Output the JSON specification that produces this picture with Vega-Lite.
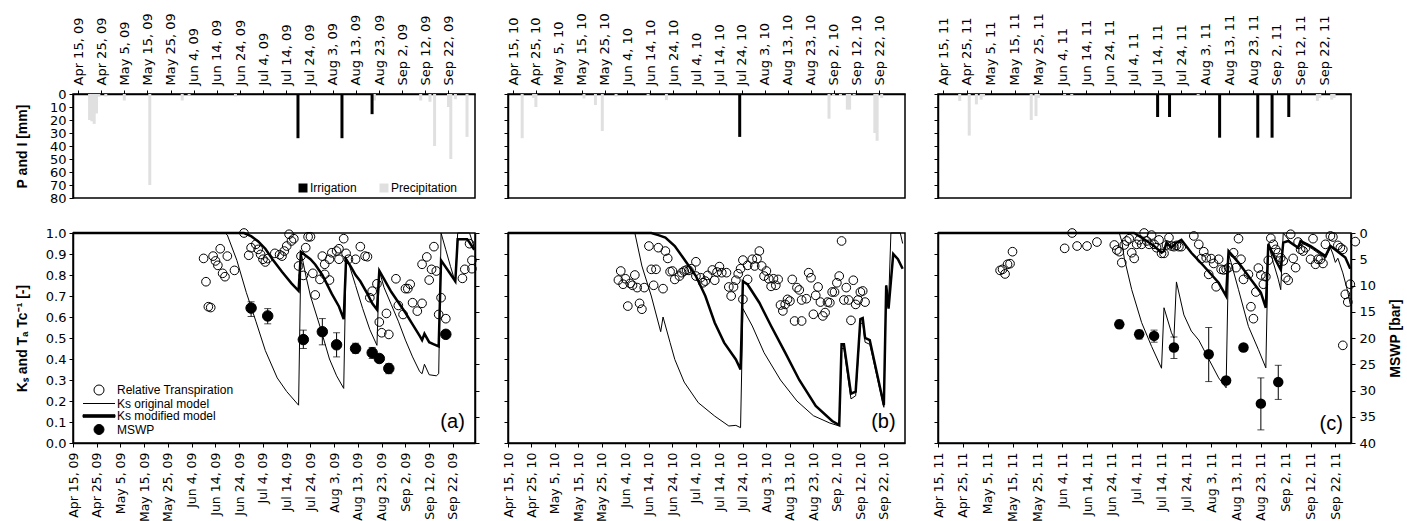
{
"$schema": "https://vega.github.io/schema/vega-lite/v6.json",
"padding": {"left": 14, "top": 11, "right": 5, "bottom": 5},
"config": {
  "font": "Liberation Sans",
  "view": {"stroke": "black", "strokeWidth": 1.5},
  "axis": {"grid": false, "labelFont": "DejaVu Sans", "labelFontSize": 13, "labelColor": "black", "tickColor": "black", "tickSize": 4, "tickWidth": 1, "domainColor": "black", "domainWidth": 1.5, "titleFont": "Liberation Sans", "titleFontSize": 14, "titleFontWeight": "bold", "titleColor": "black", "labelFlush": false, "labelOverlap": false, "labelBound": false},
  "axisTop": {"labelAngle": 270, "labelAlign": "left", "labelBaseline": "middle", "labelPadding": 5},
  "axisBottom": {"labelAngle": 270, "labelAlign": "right", "labelBaseline": "middle", "labelPadding": 5, "labelFontSize": 12.5},
  "axisLeft": {"labelPadding": 3},
  "axisRight": {"labelPadding": 4},
  "legend": {"labelFont": "Liberation Sans", "labelFontSize": 12, "labelColor": "black"}
},
"resolve": {"scale": {"x": "independent", "y": "independent", "color": "independent", "shape": "independent", "fill": "independent", "stroke": "independent"}, "axis": {"x": "independent", "y": "independent"}, "legend": {"color": "independent", "shape": "independent", "fill": "independent", "stroke": "independent"}},
"columns": 3,
"spacing": {"row": 35, "column": 33},
"bounds": "flush",
"align": "each",
"concat": [
   {
    "width": 402, "height": 104,
    "data": {"name": "top_a"},
    "mark": {"type": "bar", "size": 3},
    "encoding": {
      "x": {"field": "date", "type": "temporal", "scale": {"type": "utc", "domain": [{"year":2009,"month":4,"date":15,"utc":true},{"year":2009,"month":10,"date":1,"hours":7,"utc":true}], "nice": false},
            "axis": {"orient": "top", "title": null, "format": "%b %-d, %y", "values": [{"year":2009,"month":4,"date":15,"utc":true},{"year":2009,"month":4,"date":25,"utc":true},{"year":2009,"month":5,"date":5,"utc":true},{"year":2009,"month":5,"date":15,"utc":true},{"year":2009,"month":5,"date":25,"utc":true},{"year":2009,"month":6,"date":4,"utc":true},{"year":2009,"month":6,"date":14,"utc":true},{"year":2009,"month":6,"date":24,"utc":true},{"year":2009,"month":7,"date":4,"utc":true},{"year":2009,"month":7,"date":14,"utc":true},{"year":2009,"month":7,"date":24,"utc":true},{"year":2009,"month":8,"date":3,"utc":true},{"year":2009,"month":8,"date":13,"utc":true},{"year":2009,"month":8,"date":23,"utc":true},{"year":2009,"month":9,"date":2,"utc":true},{"year":2009,"month":9,"date":12,"utc":true},{"year":2009,"month":9,"date":22,"utc":true}]}},
      "y": {"field": "mm", "type": "quantitative", "scale": {"domain": [0, 80], "reverse": true, "nice": false}, "axis": {"title": "P and I [mm]", "values": [0,10,20,30,40,50,60,70,80], "titlePadding": 20}},
      "color": {"field": "type", "type": "nominal", "scale": {"domain": ["Irrigation", "Precipitation"], "range": ["#000000", "#e0e0e0"]},
                "legend": {"orient": "none", "legendX": 224, "legendY": 88, "direction": "horizontal", "title": null, "symbolType": "square", "symbolSize": 81, "symbolStrokeWidth": 0, "labelOffset": 1, "columnPadding": 21, "padding": 0, "labelFontSize": 12}}
    }
   },
   {
    "width": 397, "height": 104,
    "data": {"name": "top_b"},
    "mark": {"type": "bar", "size": 3},
    "encoding": {
      "x": {"field": "date", "type": "temporal", "scale": {"type": "utc", "domain": [{"year":2010,"month":4,"date":15,"utc":true},{"year":2010,"month":10,"date":1,"utc":true}], "nice": false},
            "axis": {"orient": "top", "title": null, "format": "%b %-d, %y", "values": [{"year":2010,"month":4,"date":15,"utc":true},{"year":2010,"month":4,"date":25,"utc":true},{"year":2010,"month":5,"date":5,"utc":true},{"year":2010,"month":5,"date":15,"utc":true},{"year":2010,"month":5,"date":25,"utc":true},{"year":2010,"month":6,"date":4,"utc":true},{"year":2010,"month":6,"date":14,"utc":true},{"year":2010,"month":6,"date":24,"utc":true},{"year":2010,"month":7,"date":4,"utc":true},{"year":2010,"month":7,"date":14,"utc":true},{"year":2010,"month":7,"date":24,"utc":true},{"year":2010,"month":8,"date":3,"utc":true},{"year":2010,"month":8,"date":13,"utc":true},{"year":2010,"month":8,"date":23,"utc":true},{"year":2010,"month":9,"date":2,"utc":true},{"year":2010,"month":9,"date":12,"utc":true},{"year":2010,"month":9,"date":22,"utc":true}]}},
      "y": {"field": "mm", "type": "quantitative", "scale": {"domain": [0, 80], "reverse": true, "nice": false}, "axis": {"title": null, "labels": false, "values": [0,10,20,30,40,50,60,70,80]}},
      "color": {"field": "type", "type": "nominal", "scale": {"domain": ["Irrigation", "Precipitation"], "range": ["#000000", "#e0e0e0"]}, "legend": null}
    }
   },
   {
    "width": 413, "height": 104,
    "data": {"name": "top_c"},
    "mark": {"type": "bar", "size": 3},
    "encoding": {
      "x": {"field": "date", "type": "temporal", "scale": {"type": "utc", "domain": [{"year":2011,"month":4,"date":15,"utc":true},{"year":2011,"month":10,"date":1,"utc":true}], "nice": false},
            "axis": {"orient": "top", "title": null, "format": "%b %-d, %y", "values": [{"year":2011,"month":4,"date":15,"utc":true},{"year":2011,"month":4,"date":25,"utc":true},{"year":2011,"month":5,"date":5,"utc":true},{"year":2011,"month":5,"date":15,"utc":true},{"year":2011,"month":5,"date":25,"utc":true},{"year":2011,"month":6,"date":4,"utc":true},{"year":2011,"month":6,"date":14,"utc":true},{"year":2011,"month":6,"date":24,"utc":true},{"year":2011,"month":7,"date":4,"utc":true},{"year":2011,"month":7,"date":14,"utc":true},{"year":2011,"month":7,"date":24,"utc":true},{"year":2011,"month":8,"date":3,"utc":true},{"year":2011,"month":8,"date":13,"utc":true},{"year":2011,"month":8,"date":23,"utc":true},{"year":2011,"month":9,"date":2,"utc":true},{"year":2011,"month":9,"date":12,"utc":true},{"year":2011,"month":9,"date":22,"utc":true}]}},
      "y": {"field": "mm", "type": "quantitative", "scale": {"domain": [0, 80], "reverse": true, "nice": false}, "axis": {"title": null, "labels": false, "values": [0,10,20,30,40,50,60,70,80]}},
      "color": {"field": "type", "type": "nominal", "scale": {"domain": ["Irrigation", "Precipitation"], "range": ["#000000", "#e0e0e0"]}, "legend": null}
    }
   },
   {
    "width": 402, "height": 210,
    "resolve": {"scale": {"y": "independent"}},
    "encoding": {
      "x": {"field": "date", "type": "temporal", "scale": {"type": "utc", "domain": [{"year":2009,"month":4,"date":15,"utc":true},{"year":2009,"month":10,"date":1,"hours":7,"utc":true}], "nice": false},
            "axis": {"orient": "bottom", "title": null, "format": "%b %-d, %y", "values": [{"year":2009,"month":4,"date":15,"utc":true},{"year":2009,"month":4,"date":25,"utc":true},{"year":2009,"month":5,"date":5,"utc":true},{"year":2009,"month":5,"date":15,"utc":true},{"year":2009,"month":5,"date":25,"utc":true},{"year":2009,"month":6,"date":4,"utc":true},{"year":2009,"month":6,"date":14,"utc":true},{"year":2009,"month":6,"date":24,"utc":true},{"year":2009,"month":7,"date":4,"utc":true},{"year":2009,"month":7,"date":14,"utc":true},{"year":2009,"month":7,"date":24,"utc":true},{"year":2009,"month":8,"date":3,"utc":true},{"year":2009,"month":8,"date":13,"utc":true},{"year":2009,"month":8,"date":23,"utc":true},{"year":2009,"month":9,"date":2,"utc":true},{"year":2009,"month":9,"date":12,"utc":true},{"year":2009,"month":9,"date":22,"utc":true}]}}
    },
    "layer": [
     {
      "encoding": {
        "y": {"field": "v", "type": "quantitative", "scale": {"domain": [0, 1], "nice": false}, "axis": {"title": "Kₛ and Tₐ Tc⁻¹ [-]", "values": [0,0.1,0.2,0.3,0.4,0.5,0.6,0.7,0.8,0.9,1], "format": ".1f", "titlePadding": 16}}
      },
      "layer": [
       {"data": {"name": "ks_a"}, "transform": [{"filter": "datum.series === 'Relative Transpiration'"}],
        "mark": {"type": "point", "filled": false, "size": 75, "strokeWidth": 1, "opacity": 1},
        "encoding": {
          "shape": {"field": "series", "type": "nominal", "scale": {"domain": ["Relative Transpiration", "Ks original model", "Ks modified model", "MSWP"], "range": ["circle", "M-3.2,0H3.2", "M-3.2,-0.25H3.2V0.25H-3.2Z", "circle"]},
            "legend": {"orient": "none", "legendX": 20, "legendY": 151, "title": null, "direction": "vertical", "symbolSize": 100, "labelOffset": 12, "rowPadding": 0.5, "padding": 0, "labelFontSize": 12, "symbolStrokeWidth": 1}},
          "fill": {"field": "series", "type": "nominal", "scale": {"domain": ["Relative Transpiration", "Ks original model", "Ks modified model", "MSWP"], "range": ["transparent", "transparent", "black", "black"]},
            "legend": {"orient": "none", "legendX": 20, "legendY": 151, "title": null, "direction": "vertical", "symbolSize": 100, "labelOffset": 12, "rowPadding": 0.5, "padding": 0, "labelFontSize": 12, "symbolStrokeWidth": 1}},
          "stroke": {"field": "series", "type": "nominal", "scale": {"domain": ["Relative Transpiration", "Ks original model", "Ks modified model", "MSWP"], "range": ["black", "black", "black", "black"]},
            "legend": {"orient": "none", "legendX": 20, "legendY": 151, "title": null, "direction": "vertical", "symbolSize": 100, "labelOffset": 12, "rowPadding": 0.5, "padding": 0, "labelFontSize": 12, "symbolStrokeWidth": 1}}
        }},
       {"data": {"name": "ks_a"}, "transform": [{"filter": "datum.series === 'Ks original model'"}], "mark": {"type": "line", "color": "black", "strokeWidth": 1}},
       {"data": {"name": "ks_a"}, "transform": [{"filter": "datum.series === 'Ks modified model'"}], "mark": {"type": "line", "color": "black", "strokeWidth": 2.5}},
       {"data": {"values": [{"date": "2009-09-27", "v": 0.1, "label": "(a)"}]}, "mark": {"type": "text", "align": "right", "baseline": "middle", "fontSize": 20, "font": "Liberation Sans", "color": "black"}, "encoding": {"text": {"field": "label", "type": "nominal"}}}
      ]
     },
     {
      "layer": [
       {"data": {"name": "mswp_a"}, "transform": [{"filter": "isValid(datum.lo)"}],
        "mark": {"type": "errorbar", "color": "black", "ticks": true, "size": 7, "thickness": 1},
        "encoding": {"y": {"field": "lo", "type": "quantitative", "scale": {"domain": [0, 40], "reverse": true, "nice": false}, "axis": {"orient": "right", "values": [0,5,10,15,20,25,30,35,40], "labels": false, "title": null}}, "y2": {"field": "hi"}}},
       {"data": {"name": "mswp_a"},
        "mark": {"type": "point", "filled": true, "size": 110, "strokeWidth": 1, "opacity": 1},
        "encoding": {"y": {"field": "mswp", "type": "quantitative", "scale": {"domain": [0, 40], "reverse": true, "nice": false}, "axis": {"orient": "right", "values": [0,5,10,15,20,25,30,35,40], "labels": false, "title": null}},
          "shape": {"field": "series", "type": "nominal", "scale": {"domain": ["Relative Transpiration", "Ks original model", "Ks modified model", "MSWP"], "range": ["circle", "M-3.2,0H3.2", "M-3.2,-0.25H3.2V0.25H-3.2Z", "circle"]},
            "legend": {"orient": "none", "legendX": 20, "legendY": 151, "title": null, "direction": "vertical", "symbolSize": 100, "labelOffset": 12, "rowPadding": 0.5, "padding": 0, "labelFontSize": 12, "symbolStrokeWidth": 1}},
          "fill": {"field": "series", "type": "nominal", "scale": {"domain": ["Relative Transpiration", "Ks original model", "Ks modified model", "MSWP"], "range": ["transparent", "transparent", "black", "black"]},
            "legend": {"orient": "none", "legendX": 20, "legendY": 151, "title": null, "direction": "vertical", "symbolSize": 100, "labelOffset": 12, "rowPadding": 0.5, "padding": 0, "labelFontSize": 12, "symbolStrokeWidth": 1}},
          "stroke": {"field": "series", "type": "nominal", "scale": {"domain": ["Relative Transpiration", "Ks original model", "Ks modified model", "MSWP"], "range": ["black", "black", "black", "black"]},
            "legend": {"orient": "none", "legendX": 20, "legendY": 151, "title": null, "direction": "vertical", "symbolSize": 100, "labelOffset": 12, "rowPadding": 0.5, "padding": 0, "labelFontSize": 12, "symbolStrokeWidth": 1}}
        }}
      ]
     }
    ]
   },
   {
    "width": 397, "height": 210,
    "encoding": {
      "x": {"field": "date", "type": "temporal", "scale": {"type": "utc", "domain": [{"year":2010,"month":4,"date":15,"utc":true},{"year":2010,"month":10,"date":1,"utc":true}], "nice": false},
            "axis": {"orient": "bottom", "title": null, "format": "%b %-d, %y", "values": [{"year":2010,"month":4,"date":15,"utc":true},{"year":2010,"month":4,"date":25,"utc":true},{"year":2010,"month":5,"date":5,"utc":true},{"year":2010,"month":5,"date":15,"utc":true},{"year":2010,"month":5,"date":25,"utc":true},{"year":2010,"month":6,"date":4,"utc":true},{"year":2010,"month":6,"date":14,"utc":true},{"year":2010,"month":6,"date":24,"utc":true},{"year":2010,"month":7,"date":4,"utc":true},{"year":2010,"month":7,"date":14,"utc":true},{"year":2010,"month":7,"date":24,"utc":true},{"year":2010,"month":8,"date":3,"utc":true},{"year":2010,"month":8,"date":13,"utc":true},{"year":2010,"month":8,"date":23,"utc":true},{"year":2010,"month":9,"date":2,"utc":true},{"year":2010,"month":9,"date":12,"utc":true},{"year":2010,"month":9,"date":22,"utc":true}]}},
      "y": {"field": "v", "type": "quantitative", "scale": {"domain": [0, 1], "nice": false}, "axis": {"title": null, "labels": false, "values": [0,0.1,0.2,0.3,0.4,0.5,0.6,0.7,0.8,0.9,1]}}
    },
    "layer": [
     {"data": {"name": "ks_b"}, "transform": [{"filter": "datum.series === 'Relative Transpiration'"}], "mark": {"type": "point", "shape": "circle", "filled": false, "size": 75, "strokeWidth": 1, "color": "black", "opacity": 1}},
     {"data": {"name": "ks_b"}, "transform": [{"filter": "datum.series === 'Ks original model'"}], "mark": {"type": "line", "color": "black", "strokeWidth": 1}},
     {"data": {"name": "ks_b"}, "transform": [{"filter": "datum.series === 'Ks modified model'"}], "mark": {"type": "line", "color": "black", "strokeWidth": 2.5}},
     {"data": {"values": [{"date": "2010-09-27", "v": 0.1, "label": "(b)"}]}, "mark": {"type": "text", "align": "right", "baseline": "middle", "fontSize": 20, "font": "Liberation Sans", "color": "black"}, "encoding": {"text": {"field": "label", "type": "nominal"}}}
    ]
   },
   {
    "width": 413, "height": 210,
    "resolve": {"scale": {"y": "independent"}},
    "encoding": {
      "x": {"field": "date", "type": "temporal", "scale": {"type": "utc", "domain": [{"year":2011,"month":4,"date":15,"utc":true},{"year":2011,"month":9,"date":28,"hours":7,"utc":true}], "nice": false},
            "axis": {"orient": "bottom", "title": null, "format": "%b %-d, %y", "values": [{"year":2011,"month":4,"date":15,"utc":true},{"year":2011,"month":4,"date":25,"utc":true},{"year":2011,"month":5,"date":5,"utc":true},{"year":2011,"month":5,"date":15,"utc":true},{"year":2011,"month":5,"date":25,"utc":true},{"year":2011,"month":6,"date":4,"utc":true},{"year":2011,"month":6,"date":14,"utc":true},{"year":2011,"month":6,"date":24,"utc":true},{"year":2011,"month":7,"date":4,"utc":true},{"year":2011,"month":7,"date":14,"utc":true},{"year":2011,"month":7,"date":24,"utc":true},{"year":2011,"month":8,"date":3,"utc":true},{"year":2011,"month":8,"date":13,"utc":true},{"year":2011,"month":8,"date":23,"utc":true},{"year":2011,"month":9,"date":2,"utc":true},{"year":2011,"month":9,"date":12,"utc":true},{"year":2011,"month":9,"date":22,"utc":true}]}}
    },
    "layer": [
     {
      "encoding": {
        "y": {"field": "v", "type": "quantitative", "scale": {"domain": [0, 1], "nice": false}, "axis": {"title": null, "labels": false, "values": [0,0.1,0.2,0.3,0.4,0.5,0.6,0.7,0.8,0.9,1]}}
      },
      "layer": [
       {"data": {"name": "ks_c"}, "transform": [{"filter": "datum.series === 'Relative Transpiration'"}], "mark": {"type": "point", "shape": "circle", "filled": false, "size": 75, "strokeWidth": 1, "color": "black", "opacity": 1}},
       {"data": {"name": "ks_c"}, "transform": [{"filter": "datum.series === 'Ks original model'"}], "mark": {"type": "line", "color": "black", "strokeWidth": 1}},
       {"data": {"name": "ks_c"}, "transform": [{"filter": "datum.series === 'Ks modified model'"}], "mark": {"type": "line", "color": "black", "strokeWidth": 2.5}},
       {"data": {"values": [{"date": "2011-09-25", "v": 0.09, "label": "(c)"}]}, "mark": {"type": "text", "align": "right", "baseline": "middle", "fontSize": 20, "font": "Liberation Sans", "color": "black"}, "encoding": {"text": {"field": "label", "type": "nominal"}}}
      ]
     },
     {
      "layer": [
       {"data": {"name": "mswp_c"}, "transform": [{"filter": "isValid(datum.lo)"}],
        "mark": {"type": "errorbar", "color": "black", "ticks": true, "size": 7, "thickness": 1},
        "encoding": {"y": {"field": "lo", "type": "quantitative", "scale": {"domain": [0, 40], "reverse": true, "nice": false}, "axis": {"orient": "right", "values": [0,5,10,15,20,25,30,35,40], "title": "MSWP [bar]", "titleAngle": 270, "titleBaseline": "top", "titlePadding": 13}}, "y2": {"field": "hi"}}},
       {"data": {"name": "mswp_c"},
        "mark": {"type": "point", "shape": "circle", "filled": true, "size": 110, "color": "black", "opacity": 1},
        "encoding": {"y": {"field": "mswp", "type": "quantitative", "scale": {"domain": [0, 40], "reverse": true, "nice": false}, "axis": {"orient": "right", "values": [0,5,10,15,20,25,30,35,40], "title": "MSWP [bar]", "titleAngle": 270, "titleBaseline": "top", "titlePadding": 13}}}}
      ]
     }
    ]
   }
],
"datasets": {
 "top_a": [
  {"date":"2009-04-20","type":"Precipitation","mm":20},{"date":"2009-04-21","type":"Precipitation","mm":21},{"date":"2009-04-22","type":"Precipitation","mm":23},{"date":"2009-04-23","type":"Precipitation","mm":15},{"date":"2009-04-24","type":"Precipitation","mm":2},{"date":"2009-04-27","type":"Precipitation","mm":2},{"date":"2009-05-05","type":"Precipitation","mm":5},{"date":"2009-05-16","type":"Precipitation","mm":70},{"date":"2009-05-30","type":"Precipitation","mm":5},{"date":"2009-06-02","type":"Precipitation","mm":1},{"date":"2009-06-22","type":"Precipitation","mm":2},{"date":"2009-08-21","type":"Precipitation","mm":5},{"date":"2009-09-10","type":"Precipitation","mm":5},{"date":"2009-09-14","type":"Precipitation","mm":6},{"date":"2009-09-16","type":"Precipitation","mm":40},{"date":"2009-09-22","type":"Precipitation","mm":10},{"date":"2009-09-23","type":"Precipitation","mm":50},{"date":"2009-09-25","type":"Precipitation","mm":4},{"date":"2009-09-30","type":"Precipitation","mm":33},
  {"date":"2009-07-19","type":"Irrigation","mm":34},{"date":"2009-08-07","type":"Irrigation","mm":34},{"date":"2009-08-20","type":"Irrigation","mm":15.5}
 ],
 "top_b": [
  {"date":"2010-04-19","type":"Precipitation","mm":34},{"date":"2010-04-24","type":"Precipitation","mm":3},{"date":"2010-04-25","type":"Precipitation","mm":10},{"date":"2010-05-16","type":"Precipitation","mm":3.4},{"date":"2010-05-21","type":"Precipitation","mm":8.5},{"date":"2010-05-24","type":"Precipitation","mm":28.5},{"date":"2010-05-30","type":"Precipitation","mm":2},{"date":"2010-06-13","type":"Precipitation","mm":1.5},{"date":"2010-06-21","type":"Precipitation","mm":4.7},{"date":"2010-08-31","type":"Precipitation","mm":19},{"date":"2010-09-02","type":"Precipitation","mm":1.5},{"date":"2010-09-05","type":"Precipitation","mm":1.5},{"date":"2010-09-08","type":"Precipitation","mm":12},{"date":"2010-09-09","type":"Precipitation","mm":12},{"date":"2010-09-11","type":"Precipitation","mm":1},{"date":"2010-09-20","type":"Precipitation","mm":30},{"date":"2010-09-21","type":"Precipitation","mm":36},{"date":"2010-09-23","type":"Precipitation","mm":3},
  {"date":"2010-07-23","type":"Irrigation","mm":33}
 ],
 "top_c": [
  {"date":"2011-04-22","type":"Precipitation","mm":5.4},{"date":"2011-04-26","type":"Precipitation","mm":32},{"date":"2011-04-29","type":"Precipitation","mm":8},{"date":"2011-05-01","type":"Precipitation","mm":4.4},{"date":"2011-05-02","type":"Precipitation","mm":2},{"date":"2011-05-22","type":"Precipitation","mm":20},{"date":"2011-05-24","type":"Precipitation","mm":17},{"date":"2011-05-25","type":"Precipitation","mm":3},{"date":"2011-06-05","type":"Precipitation","mm":1},{"date":"2011-06-08","type":"Precipitation","mm":1},{"date":"2011-07-31","type":"Precipitation","mm":1},{"date":"2011-09-19","type":"Precipitation","mm":5.4},{"date":"2011-09-20","type":"Precipitation","mm":3},{"date":"2011-09-25","type":"Precipitation","mm":4.4},{"date":"2011-09-26","type":"Precipitation","mm":3},
  {"date":"2011-07-14","type":"Irrigation","mm":17.7},{"date":"2011-07-19","type":"Irrigation","mm":17.7},{"date":"2011-08-09","type":"Irrigation","mm":33.6},{"date":"2011-08-25","type":"Irrigation","mm":33.6},{"date":"2011-08-31","type":"Irrigation","mm":33.6},{"date":"2011-09-07","type":"Irrigation","mm":17.7}
 ],
 "ks_a": [
  {"date":"2009-06-09","series":"Relative Transpiration","v":0.879},{"date":"2009-06-10","series":"Relative Transpiration","v":0.768},{"date":"2009-06-11","series":"Relative Transpiration","v":0.649},{"date":"2009-06-12","series":"Relative Transpiration","v":0.645},{"date":"2009-06-13","series":"Relative Transpiration","v":0.890},{"date":"2009-06-14","series":"Relative Transpiration","v":0.867},{"date":"2009-06-15","series":"Relative Transpiration","v":0.846},{"date":"2009-06-16","series":"Relative Transpiration","v":0.925},{"date":"2009-06-17","series":"Relative Transpiration","v":0.808},{"date":"2009-06-18","series":"Relative Transpiration","v":0.792},{"date":"2009-06-19","series":"Relative Transpiration","v":0.890},{"date":"2009-06-22","series":"Relative Transpiration","v":0.822},{"date":"2009-06-26","series":"Relative Transpiration","v":1.0},{"date":"2009-06-28","series":"Relative Transpiration","v":0.894},{"date":"2009-06-29","series":"Relative Transpiration","v":0.930},{"date":"2009-07-01","series":"Relative Transpiration","v":0.946},{"date":"2009-07-02","series":"Relative Transpiration","v":0.922},{"date":"2009-07-03","series":"Relative Transpiration","v":0.898},{"date":"2009-07-04","series":"Relative Transpiration","v":0.875},{"date":"2009-07-05","series":"Relative Transpiration","v":0.862},{"date":"2009-07-06","series":"Relative Transpiration","v":0.878},{"date":"2009-07-09","series":"Relative Transpiration","v":0.903},{"date":"2009-07-11","series":"Relative Transpiration","v":0.897},{"date":"2009-07-12","series":"Relative Transpiration","v":0.890},{"date":"2009-07-13","series":"Relative Transpiration","v":0.914},{"date":"2009-07-14","series":"Relative Transpiration","v":0.938},{"date":"2009-07-15","series":"Relative Transpiration","v":0.994},{"date":"2009-07-16","series":"Relative Transpiration","v":0.962},{"date":"2009-07-17","series":"Relative Transpiration","v":0.973},{"date":"2009-07-19","series":"Relative Transpiration","v":0.843},{"date":"2009-07-20","series":"Relative Transpiration","v":0.890},{"date":"2009-07-21","series":"Relative Transpiration","v":0.798},{"date":"2009-07-22","series":"Relative Transpiration","v":0.930},{"date":"2009-07-23","series":"Relative Transpiration","v":0.982},{"date":"2009-07-24","series":"Relative Transpiration","v":0.982},{"date":"2009-07-25","series":"Relative Transpiration","v":0.808},{"date":"2009-07-26","series":"Relative Transpiration","v":0.705},{"date":"2009-07-28","series":"Relative Transpiration","v":0.779},{"date":"2009-07-29","series":"Relative Transpiration","v":0.890},{"date":"2009-07-30","series":"Relative Transpiration","v":0.851},{"date":"2009-07-30","series":"Relative Transpiration","v":0.803},{"date":"2009-08-01","series":"Relative Transpiration","v":0.776},{"date":"2009-08-01","series":"Relative Transpiration","v":0.875},{"date":"2009-08-02","series":"Relative Transpiration","v":0.906},{"date":"2009-08-04","series":"Relative Transpiration","v":0.914},{"date":"2009-08-05","series":"Relative Transpiration","v":0.925},{"date":"2009-08-05","series":"Relative Transpiration","v":0.875},{"date":"2009-08-07","series":"Relative Transpiration","v":0.973},{"date":"2009-08-08","series":"Relative Transpiration","v":0.903},{"date":"2009-08-09","series":"Relative Transpiration","v":0.875},{"date":"2009-08-12","series":"Relative Transpiration","v":0.875},{"date":"2009-08-14","series":"Relative Transpiration","v":0.935},{"date":"2009-08-16","series":"Relative Transpiration","v":0.890},{"date":"2009-08-17","series":"Relative Transpiration","v":0.887},{"date":"2009-08-18","series":"Relative Transpiration","v":0.692},{"date":"2009-08-19","series":"Relative Transpiration","v":0.723},{"date":"2009-08-21","series":"Relative Transpiration","v":0.758},{"date":"2009-08-22","series":"Relative Transpiration","v":0.576},{"date":"2009-08-23","series":"Relative Transpiration","v":0.525},{"date":"2009-08-25","series":"Relative Transpiration","v":0.617},{"date":"2009-08-26","series":"Relative Transpiration","v":0.517},{"date":"2009-08-29","series":"Relative Transpiration","v":0.782},{"date":"2009-08-30","series":"Relative Transpiration","v":0.655},{"date":"2009-09-01","series":"Relative Transpiration","v":0.612},{"date":"2009-09-02","series":"Relative Transpiration","v":0.735},{"date":"2009-09-03","series":"Relative Transpiration","v":0.735},{"date":"2009-09-04","series":"Relative Transpiration","v":0.756},{"date":"2009-09-05","series":"Relative Transpiration","v":0.668},{"date":"2009-09-07","series":"Relative Transpiration","v":0.628},{"date":"2009-09-09","series":"Relative Transpiration","v":0.665},{"date":"2009-09-09","series":"Relative Transpiration","v":0.851},{"date":"2009-09-11","series":"Relative Transpiration","v":0.886},{"date":"2009-09-12","series":"Relative Transpiration","v":0.776},{"date":"2009-09-13","series":"Relative Transpiration","v":0.827},{"date":"2009-09-14","series":"Relative Transpiration","v":0.935},{"date":"2009-09-15","series":"Relative Transpiration","v":0.819},{"date":"2009-09-16","series":"Relative Transpiration","v":0.612},{"date":"2009-09-17","series":"Relative Transpiration","v":0.692},{"date":"2009-09-19","series":"Relative Transpiration","v":0.592},{"date":"2009-09-26","series":"Relative Transpiration","v":0.784},{"date":"2009-09-27","series":"Relative Transpiration","v":0.827},{"date":"2009-09-29","series":"Relative Transpiration","v":0.949},{"date":"2009-09-30","series":"Relative Transpiration","v":0.870},{"date":"2009-09-30","series":"Relative Transpiration","v":0.830},
  {"date":"2009-04-15","series":"Ks original model","v":1.0},{"date":"2009-06-18","series":"Ks original model","v":1.0},{"date":"2009-06-19","series":"Ks original model","v":0.99},{"date":"2009-06-23","series":"Ks original model","v":0.87},{"date":"2009-06-27","series":"Ks original model","v":0.716},{"date":"2009-07-01","series":"Ks original model","v":0.58},{"date":"2009-07-05","series":"Ks original model","v":0.44},{"date":"2009-07-10","series":"Ks original model","v":0.31},{"date":"2009-07-14","series":"Ks original model","v":0.245},{"date":"2009-07-19","series":"Ks original model","v":0.18},{"date":"2009-07-20","series":"Ks original model","v":0.91},{"date":"2009-07-22","series":"Ks original model","v":0.80},{"date":"2009-07-24","series":"Ks original model","v":0.70},{"date":"2009-07-28","series":"Ks original model","v":0.555},{"date":"2009-08-01","series":"Ks original model","v":0.40},{"date":"2009-08-04","series":"Ks original model","v":0.32},{"date":"2009-08-07","series":"Ks original model","v":0.26},{"date":"2009-08-08","series":"Ks original model","v":0.88},{"date":"2009-08-09","series":"Ks original model","v":0.86},{"date":"2009-08-12","series":"Ks original model","v":0.75},{"date":"2009-08-15","series":"Ks original model","v":0.64},{"date":"2009-08-18","series":"Ks original model","v":0.54},{"date":"2009-08-21","series":"Ks original model","v":0.465},{"date":"2009-08-22","series":"Ks original model","v":0.82},{"date":"2009-08-24","series":"Ks original model","v":0.74},{"date":"2009-08-27","series":"Ks original model","v":0.66},{"date":"2009-08-30","series":"Ks original model","v":0.58},{"date":"2009-09-02","series":"Ks original model","v":0.49},{"date":"2009-09-05","series":"Ks original model","v":0.41},{"date":"2009-09-08","series":"Ks original model","v":0.34},{"date":"2009-09-09","series":"Ks original model","v":0.33},{"date":"2009-09-10","series":"Ks original model","v":0.375},{"date":"2009-09-12","series":"Ks original model","v":0.325},{"date":"2009-09-15","series":"Ks original model","v":0.32},{"date":"2009-09-16","series":"Ks original model","v":0.33},{"date":"2009-09-17","series":"Ks original model","v":1.0},{"date":"2009-09-19","series":"Ks original model","v":0.92},{"date":"2009-09-21","series":"Ks original model","v":0.84},{"date":"2009-09-23","series":"Ks original model","v":0.765},{"date":"2009-09-24","series":"Ks original model","v":1.0},{"date":"2009-09-29","series":"Ks original model","v":1.0},{"date":"2009-10-01","series":"Ks original model","v":0.93},
  {"date":"2009-04-15","series":"Ks modified model","v":1.0},{"date":"2009-06-26","series":"Ks modified model","v":1.0},{"date":"2009-06-29","series":"Ks modified model","v":0.985},{"date":"2009-07-02","series":"Ks modified model","v":0.96},{"date":"2009-07-05","series":"Ks modified model","v":0.925},{"date":"2009-07-08","series":"Ks modified model","v":0.875},{"date":"2009-07-12","series":"Ks modified model","v":0.815},{"date":"2009-07-16","series":"Ks modified model","v":0.76},{"date":"2009-07-19","series":"Ks modified model","v":0.725},{"date":"2009-07-20","series":"Ks modified model","v":0.91},{"date":"2009-07-24","series":"Ks modified model","v":0.875},{"date":"2009-07-26","series":"Ks modified model","v":0.85},{"date":"2009-07-29","series":"Ks modified model","v":0.80},{"date":"2009-08-02","series":"Ks modified model","v":0.71},{"date":"2009-08-05","series":"Ks modified model","v":0.65},{"date":"2009-08-07","series":"Ks modified model","v":0.59},{"date":"2009-08-08","series":"Ks modified model","v":0.875},{"date":"2009-08-10","series":"Ks modified model","v":0.84},{"date":"2009-08-12","series":"Ks modified model","v":0.80},{"date":"2009-08-14","series":"Ks modified model","v":0.77},{"date":"2009-08-17","series":"Ks modified model","v":0.71},{"date":"2009-08-19","series":"Ks modified model","v":0.665},{"date":"2009-08-21","series":"Ks modified model","v":0.635},{"date":"2009-08-22","series":"Ks modified model","v":0.82},{"date":"2009-08-24","series":"Ks modified model","v":0.78},{"date":"2009-08-27","series":"Ks modified model","v":0.72},{"date":"2009-08-30","series":"Ks modified model","v":0.67},{"date":"2009-09-02","series":"Ks modified model","v":0.62},{"date":"2009-09-05","series":"Ks modified model","v":0.565},{"date":"2009-09-08","series":"Ks modified model","v":0.51},{"date":"2009-09-09","series":"Ks modified model","v":0.49},{"date":"2009-09-10","series":"Ks modified model","v":0.52},{"date":"2009-09-12","series":"Ks modified model","v":0.48},{"date":"2009-09-14","series":"Ks modified model","v":0.47},{"date":"2009-09-16","series":"Ks modified model","v":0.46},{"date":"2009-09-17","series":"Ks modified model","v":0.87},{"date":"2009-09-20","series":"Ks modified model","v":0.82},{"date":"2009-09-23","series":"Ks modified model","v":0.77},{"date":"2009-09-24","series":"Ks modified model","v":0.97},{"date":"2009-09-28","series":"Ks modified model","v":0.97},{"date":"2009-09-29","series":"Ks modified model","v":0.955},{"date":"2009-10-01","series":"Ks modified model","v":0.92}
 ],
 "mswp_a": [
  {"date":"2009-06-29","series":"MSWP","mswp":14.3,"lo":13.1,"hi":15.9},{"date":"2009-07-06","series":"MSWP","mswp":15.8,"lo":14.4,"hi":17.3},{"date":"2009-07-21","series":"MSWP","mswp":20.3,"lo":18.5,"hi":22.0},{"date":"2009-07-29","series":"MSWP","mswp":18.8,"lo":16.3,"hi":21.3},{"date":"2009-08-04","series":"MSWP","mswp":21.3,"lo":19.0,"hi":23.6},{"date":"2009-08-12","series":"MSWP","mswp":22.0,"lo":21.0,"hi":22.9},{"date":"2009-08-19","series":"MSWP","mswp":22.8,"lo":21.8,"hi":23.9},{"date":"2009-08-22","series":"MSWP","mswp":23.9,"lo":null,"hi":null},{"date":"2009-08-26","series":"MSWP","mswp":25.8,"lo":24.9,"hi":26.8},{"date":"2009-09-19","series":"MSWP","mswp":19.3,"lo":null,"hi":null}
 ],
 "ks_b": [
  {"date":"2010-06-01","series":"Relative Transpiration","v":0.776},{"date":"2010-06-02","series":"Relative Transpiration","v":0.819},{"date":"2010-06-03","series":"Relative Transpiration","v":0.756},{"date":"2010-06-04","series":"Relative Transpiration","v":0.782},{"date":"2010-06-05","series":"Relative Transpiration","v":0.652},{"date":"2010-06-06","series":"Relative Transpiration","v":0.760},{"date":"2010-06-07","series":"Relative Transpiration","v":0.751},{"date":"2010-06-08","series":"Relative Transpiration","v":0.80},{"date":"2010-06-09","series":"Relative Transpiration","v":0.74},{"date":"2010-06-10","series":"Relative Transpiration","v":0.665},{"date":"2010-06-11","series":"Relative Transpiration","v":0.637},{"date":"2010-06-12","series":"Relative Transpiration","v":0.74},{"date":"2010-06-14","series":"Relative Transpiration","v":0.938},{"date":"2010-06-15","series":"Relative Transpiration","v":0.827},{"date":"2010-06-16","series":"Relative Transpiration","v":0.751},{"date":"2010-06-17","series":"Relative Transpiration","v":0.827},{"date":"2010-06-18","series":"Relative Transpiration","v":0.930},{"date":"2010-06-20","series":"Relative Transpiration","v":0.735},{"date":"2010-06-21","series":"Relative Transpiration","v":0.914},{"date":"2010-06-22","series":"Relative Transpiration","v":0.879},{"date":"2010-06-23","series":"Relative Transpiration","v":0.816},{"date":"2010-06-24","series":"Relative Transpiration","v":0.819},{"date":"2010-06-25","series":"Relative Transpiration","v":0.779},{"date":"2010-06-27","series":"Relative Transpiration","v":0.795},{"date":"2010-06-28","series":"Relative Transpiration","v":0.811},{"date":"2010-06-29","series":"Relative Transpiration","v":0.819},{"date":"2010-06-30","series":"Relative Transpiration","v":0.824},{"date":"2010-07-01","series":"Relative Transpiration","v":0.822},{"date":"2010-07-02","series":"Relative Transpiration","v":0.830},{"date":"2010-07-04","series":"Relative Transpiration","v":0.863},{"date":"2010-07-04","series":"Relative Transpiration","v":0.795},{"date":"2010-07-06","series":"Relative Transpiration","v":0.787},{"date":"2010-07-07","series":"Relative Transpiration","v":0.763},{"date":"2010-07-08","series":"Relative Transpiration","v":0.771},{"date":"2010-07-09","series":"Relative Transpiration","v":0.798},{"date":"2010-07-11","series":"Relative Transpiration","v":0.824},{"date":"2010-07-12","series":"Relative Transpiration","v":0.775},{"date":"2010-07-13","series":"Relative Transpiration","v":0.814},{"date":"2010-07-14","series":"Relative Transpiration","v":0.840},{"date":"2010-07-15","series":"Relative Transpiration","v":0.811},{"date":"2010-07-17","series":"Relative Transpiration","v":0.811},{"date":"2010-07-18","series":"Relative Transpiration","v":0.743},{"date":"2010-07-19","series":"Relative Transpiration","v":0.70},{"date":"2010-07-20","series":"Relative Transpiration","v":0.743},{"date":"2010-07-21","series":"Relative Transpiration","v":0.775},{"date":"2010-07-22","series":"Relative Transpiration","v":0.806},{"date":"2010-07-23","series":"Relative Transpiration","v":0.830},{"date":"2010-07-24","series":"Relative Transpiration","v":0.871},{"date":"2010-07-24","series":"Relative Transpiration","v":0.684},{"date":"2010-07-26","series":"Relative Transpiration","v":0.779},{"date":"2010-07-26","series":"Relative Transpiration","v":0.846},{"date":"2010-07-28","series":"Relative Transpiration","v":0.875},{"date":"2010-07-29","series":"Relative Transpiration","v":0.843},{"date":"2010-07-30","series":"Relative Transpiration","v":0.878},{"date":"2010-07-31","series":"Relative Transpiration","v":0.914},{"date":"2010-08-01","series":"Relative Transpiration","v":0.843},{"date":"2010-08-02","series":"Relative Transpiration","v":0.795},{"date":"2010-08-03","series":"Relative Transpiration","v":0.819},{"date":"2010-08-04","series":"Relative Transpiration","v":0.782},{"date":"2010-08-05","series":"Relative Transpiration","v":0.746},{"date":"2010-08-06","series":"Relative Transpiration","v":0.782},{"date":"2010-08-07","series":"Relative Transpiration","v":0.751},{"date":"2010-08-08","series":"Relative Transpiration","v":0.779},{"date":"2010-08-09","series":"Relative Transpiration","v":0.657},{"date":"2010-08-10","series":"Relative Transpiration","v":0.629},{"date":"2010-08-11","series":"Relative Transpiration","v":0.660},{"date":"2010-08-12","series":"Relative Transpiration","v":0.684},{"date":"2010-08-13","series":"Relative Transpiration","v":0.676},{"date":"2010-08-14","series":"Relative Transpiration","v":0.779},{"date":"2010-08-15","series":"Relative Transpiration","v":0.581},{"date":"2010-08-16","series":"Relative Transpiration","v":0.74},{"date":"2010-08-17","series":"Relative Transpiration","v":0.729},{"date":"2010-08-18","series":"Relative Transpiration","v":0.581},{"date":"2010-08-18","series":"Relative Transpiration","v":0.681},{"date":"2010-08-20","series":"Relative Transpiration","v":0.687},{"date":"2010-08-21","series":"Relative Transpiration","v":0.811},{"date":"2010-08-22","series":"Relative Transpiration","v":0.787},{"date":"2010-08-23","series":"Relative Transpiration","v":0.613},{"date":"2010-08-24","series":"Relative Transpiration","v":0.703},{"date":"2010-08-25","series":"Relative Transpiration","v":0.743},{"date":"2010-08-26","series":"Relative Transpiration","v":0.671},{"date":"2010-08-27","series":"Relative Transpiration","v":0.605},{"date":"2010-08-28","series":"Relative Transpiration","v":0.621},{"date":"2010-08-29","series":"Relative Transpiration","v":0.671},{"date":"2010-08-30","series":"Relative Transpiration","v":0.668},{"date":"2010-08-31","series":"Relative Transpiration","v":0.719},{"date":"2010-09-01","series":"Relative Transpiration","v":0.719},{"date":"2010-09-02","series":"Relative Transpiration","v":0.763},{"date":"2010-09-03","series":"Relative Transpiration","v":0.795},{"date":"2010-09-04","series":"Relative Transpiration","v":0.962},{"date":"2010-09-05","series":"Relative Transpiration","v":0.681},{"date":"2010-09-06","series":"Relative Transpiration","v":0.74},{"date":"2010-09-07","series":"Relative Transpiration","v":0.681},{"date":"2010-09-08","series":"Relative Transpiration","v":0.584},{"date":"2010-09-09","series":"Relative Transpiration","v":0.775},{"date":"2010-09-10","series":"Relative Transpiration","v":0.660},{"date":"2010-09-11","series":"Relative Transpiration","v":0.681},{"date":"2010-09-12","series":"Relative Transpiration","v":0.719},{"date":"2010-09-13","series":"Relative Transpiration","v":0.724},{"date":"2010-09-14","series":"Relative Transpiration","v":0.671},
  {"date":"2010-04-15","series":"Ks original model","v":1.0},{"date":"2010-06-08","series":"Ks original model","v":1.0},{"date":"2010-06-11","series":"Ks original model","v":0.843},{"date":"2010-06-15","series":"Ks original model","v":0.70},{"date":"2010-06-19","series":"Ks original model","v":0.53},{"date":"2010-06-20","series":"Ks original model","v":0.60},{"date":"2010-06-23","series":"Ks original model","v":0.478},{"date":"2010-06-25","series":"Ks original model","v":0.398},{"date":"2010-06-29","series":"Ks original model","v":0.29},{"date":"2010-07-05","series":"Ks original model","v":0.192},{"date":"2010-07-12","series":"Ks original model","v":0.128},{"date":"2010-07-18","series":"Ks original model","v":0.081},{"date":"2010-07-21","series":"Ks original model","v":0.084},{"date":"2010-07-23","series":"Ks original model","v":0.073},{"date":"2010-07-24","series":"Ks original model","v":0.64},{"date":"2010-07-28","series":"Ks original model","v":0.557},{"date":"2010-08-02","series":"Ks original model","v":0.43},{"date":"2010-08-09","series":"Ks original model","v":0.30},{"date":"2010-08-16","series":"Ks original model","v":0.20},{"date":"2010-08-23","series":"Ks original model","v":0.13},{"date":"2010-08-30","series":"Ks original model","v":0.095},{"date":"2010-09-03","series":"Ks original model","v":0.081},{"date":"2010-09-04","series":"Ks original model","v":0.45},{"date":"2010-09-05","series":"Ks original model","v":0.45},{"date":"2010-09-08","series":"Ks original model","v":0.21},{"date":"2010-09-10","series":"Ks original model","v":0.225},{"date":"2010-09-12","series":"Ks original model","v":0.565},{"date":"2010-09-13","series":"Ks original model","v":0.575},{"date":"2010-09-14","series":"Ks original model","v":0.48},{"date":"2010-09-16","series":"Ks original model","v":0.47},{"date":"2010-09-22","series":"Ks original model","v":0.17},{"date":"2010-09-23","series":"Ks original model","v":0.75},{"date":"2010-09-24","series":"Ks original model","v":0.66},{"date":"2010-09-25","series":"Ks original model","v":1.0},{"date":"2010-09-29","series":"Ks original model","v":1.0},{"date":"2010-09-30","series":"Ks original model","v":0.95},
  {"date":"2010-04-15","series":"Ks modified model","v":1.0},{"date":"2010-06-15","series":"Ks modified model","v":1.0},{"date":"2010-06-18","series":"Ks modified model","v":0.99},{"date":"2010-06-21","series":"Ks modified model","v":0.978},{"date":"2010-06-25","series":"Ks modified model","v":0.938},{"date":"2010-06-29","series":"Ks modified model","v":0.875},{"date":"2010-07-04","series":"Ks modified model","v":0.795},{"date":"2010-07-08","series":"Ks modified model","v":0.70},{"date":"2010-07-12","series":"Ks modified model","v":0.573},{"date":"2010-07-16","series":"Ks modified model","v":0.478},{"date":"2010-07-21","series":"Ks modified model","v":0.398},{"date":"2010-07-23","series":"Ks modified model","v":0.35},{"date":"2010-07-24","series":"Ks modified model","v":0.77},{"date":"2010-07-26","series":"Ks modified model","v":0.755},{"date":"2010-07-31","series":"Ks modified model","v":0.668},{"date":"2010-08-05","series":"Ks modified model","v":0.557},{"date":"2010-08-11","series":"Ks modified model","v":0.43},{"date":"2010-08-17","series":"Ks modified model","v":0.30},{"date":"2010-08-24","series":"Ks modified model","v":0.176},{"date":"2010-08-31","series":"Ks modified model","v":0.105},{"date":"2010-09-03","series":"Ks modified model","v":0.085},{"date":"2010-09-04","series":"Ks modified model","v":0.47},{"date":"2010-09-05","series":"Ks modified model","v":0.47},{"date":"2010-09-08","series":"Ks modified model","v":0.235},{"date":"2010-09-10","series":"Ks modified model","v":0.245},{"date":"2010-09-12","series":"Ks modified model","v":0.59},{"date":"2010-09-13","series":"Ks modified model","v":0.595},{"date":"2010-09-14","series":"Ks modified model","v":0.50},{"date":"2010-09-16","series":"Ks modified model","v":0.49},{"date":"2010-09-22","series":"Ks modified model","v":0.18},{"date":"2010-09-23","series":"Ks modified model","v":0.75},{"date":"2010-09-24","series":"Ks modified model","v":0.64},{"date":"2010-09-26","series":"Ks modified model","v":0.90},{"date":"2010-09-28","series":"Ks modified model","v":0.875},{"date":"2010-09-30","series":"Ks modified model","v":0.83}
 ],
 "ks_c": [
  {"date":"2011-05-10","series":"Relative Transpiration","v":0.822},{"date":"2011-05-11","series":"Relative Transpiration","v":0.827},{"date":"2011-05-12","series":"Relative Transpiration","v":0.805},{"date":"2011-05-13","series":"Relative Transpiration","v":0.851},{"date":"2011-05-14","series":"Relative Transpiration","v":0.854},{"date":"2011-05-15","series":"Relative Transpiration","v":0.911},{"date":"2011-06-05","series":"Relative Transpiration","v":0.927},{"date":"2011-06-08","series":"Relative Transpiration","v":1.0},{"date":"2011-06-10","series":"Relative Transpiration","v":0.938},{"date":"2011-06-14","series":"Relative Transpiration","v":0.938},{"date":"2011-06-18","series":"Relative Transpiration","v":0.957},{"date":"2011-06-25","series":"Relative Transpiration","v":0.943},{"date":"2011-06-26","series":"Relative Transpiration","v":0.919},{"date":"2011-06-27","series":"Relative Transpiration","v":0.911},{"date":"2011-06-28","series":"Relative Transpiration","v":0.859},{"date":"2011-06-29","series":"Relative Transpiration","v":0.943},{"date":"2011-06-30","series":"Relative Transpiration","v":0.962},{"date":"2011-07-01","series":"Relative Transpiration","v":0.973},{"date":"2011-07-02","series":"Relative Transpiration","v":0.906},{"date":"2011-07-03","series":"Relative Transpiration","v":0.879},{"date":"2011-07-04","series":"Relative Transpiration","v":0.946},{"date":"2011-07-05","series":"Relative Transpiration","v":0.967},{"date":"2011-07-06","series":"Relative Transpiration","v":0.946},{"date":"2011-07-07","series":"Relative Transpiration","v":1.0},{"date":"2011-07-08","series":"Relative Transpiration","v":0.962},{"date":"2011-07-09","series":"Relative Transpiration","v":0.946},{"date":"2011-07-10","series":"Relative Transpiration","v":0.990},{"date":"2011-07-11","series":"Relative Transpiration","v":0.946},{"date":"2011-07-12","series":"Relative Transpiration","v":0.930},{"date":"2011-07-13","series":"Relative Transpiration","v":0.967},{"date":"2011-07-14","series":"Relative Transpiration","v":0.903},{"date":"2011-07-15","series":"Relative Transpiration","v":0.903},{"date":"2011-07-16","series":"Relative Transpiration","v":0.943},{"date":"2011-07-17","series":"Relative Transpiration","v":0.978},{"date":"2011-07-18","series":"Relative Transpiration","v":0.938},{"date":"2011-07-19","series":"Relative Transpiration","v":0.935},{"date":"2011-07-20","series":"Relative Transpiration","v":0.941},{"date":"2011-07-21","series":"Relative Transpiration","v":0.935},{"date":"2011-07-22","series":"Relative Transpiration","v":0.935},{"date":"2011-07-27","series":"Relative Transpiration","v":0.986},{"date":"2011-07-29","series":"Relative Transpiration","v":0.946},{"date":"2011-07-30","series":"Relative Transpiration","v":0.878},{"date":"2011-07-31","series":"Relative Transpiration","v":0.911},{"date":"2011-08-01","series":"Relative Transpiration","v":0.882},{"date":"2011-08-02","series":"Relative Transpiration","v":0.803},{"date":"2011-08-03","series":"Relative Transpiration","v":0.878},{"date":"2011-08-04","series":"Relative Transpiration","v":0.855},{"date":"2011-08-05","series":"Relative Transpiration","v":0.744},{"date":"2011-08-06","series":"Relative Transpiration","v":0.875},{"date":"2011-08-07","series":"Relative Transpiration","v":0.827},{"date":"2011-08-08","series":"Relative Transpiration","v":0.824},{"date":"2011-08-09","series":"Relative Transpiration","v":0.827},{"date":"2011-08-10","series":"Relative Transpiration","v":0.835},{"date":"2011-08-12","series":"Relative Transpiration","v":0.906},{"date":"2011-08-13","series":"Relative Transpiration","v":0.835},{"date":"2011-08-14","series":"Relative Transpiration","v":0.973},{"date":"2011-08-15","series":"Relative Transpiration","v":0.875},{"date":"2011-08-16","series":"Relative Transpiration","v":0.779},{"date":"2011-08-18","series":"Relative Transpiration","v":0.803},{"date":"2011-08-19","series":"Relative Transpiration","v":0.649},{"date":"2011-08-20","series":"Relative Transpiration","v":0.592},{"date":"2011-08-21","series":"Relative Transpiration","v":0.719},{"date":"2011-08-22","series":"Relative Transpiration","v":0.833},{"date":"2011-08-23","series":"Relative Transpiration","v":0.80},{"date":"2011-08-24","series":"Relative Transpiration","v":0.756},{"date":"2011-08-25","series":"Relative Transpiration","v":0.792},{"date":"2011-08-26","series":"Relative Transpiration","v":0.870},{"date":"2011-08-27","series":"Relative Transpiration","v":0.975},{"date":"2011-08-28","series":"Relative Transpiration","v":0.946},{"date":"2011-08-29","series":"Relative Transpiration","v":0.922},{"date":"2011-08-30","series":"Relative Transpiration","v":0.906},{"date":"2011-08-31","series":"Relative Transpiration","v":0.882},{"date":"2011-09-01","series":"Relative Transpiration","v":0.867},{"date":"2011-09-02","series":"Relative Transpiration","v":0.787},{"date":"2011-09-03","series":"Relative Transpiration","v":0.775},{"date":"2011-09-04","series":"Relative Transpiration","v":0.994},{"date":"2011-09-05","series":"Relative Transpiration","v":0.879},{"date":"2011-09-06","series":"Relative Transpiration","v":0.835},{"date":"2011-09-07","series":"Relative Transpiration","v":0.957},{"date":"2011-09-08","series":"Relative Transpiration","v":0.922},{"date":"2011-09-09","series":"Relative Transpiration","v":0.914},{"date":"2011-09-10","series":"Relative Transpiration","v":0.930},{"date":"2011-09-12","series":"Relative Transpiration","v":0.875},{"date":"2011-09-13","series":"Relative Transpiration","v":0.973},{"date":"2011-09-14","series":"Relative Transpiration","v":0.851},{"date":"2011-09-15","series":"Relative Transpiration","v":0.875},{"date":"2011-09-16","series":"Relative Transpiration","v":0.875},{"date":"2011-09-17","series":"Relative Transpiration","v":0.855},{"date":"2011-09-18","series":"Relative Transpiration","v":0.946},{"date":"2011-09-20","series":"Relative Transpiration","v":0.986},{"date":"2011-09-21","series":"Relative Transpiration","v":0.981},{"date":"2011-09-23","series":"Relative Transpiration","v":0.941},{"date":"2011-09-24","series":"Relative Transpiration","v":0.930},{"date":"2011-09-25","series":"Relative Transpiration","v":0.922},{"date":"2011-09-25","series":"Relative Transpiration","v":0.465},{"date":"2011-09-26","series":"Relative Transpiration","v":0.708},{"date":"2011-09-27","series":"Relative Transpiration","v":0.671},{"date":"2011-09-28","series":"Relative Transpiration","v":0.756},{"date":"2011-09-30","series":"Relative Transpiration","v":0.959},
  {"date":"2011-04-15","series":"Ks original model","v":1.0},{"date":"2011-06-27","series":"Ks original model","v":1.0},{"date":"2011-06-28","series":"Ks original model","v":0.96},{"date":"2011-06-29","series":"Ks original model","v":0.88},{"date":"2011-07-02","series":"Ks original model","v":0.73},{"date":"2011-07-06","series":"Ks original model","v":0.573},{"date":"2011-07-10","series":"Ks original model","v":0.46},{"date":"2011-07-14","series":"Ks original model","v":0.356},{"date":"2011-07-15","series":"Ks original model","v":0.644},{"date":"2011-07-18","series":"Ks original model","v":0.525},{"date":"2011-07-19","series":"Ks original model","v":0.50},{"date":"2011-07-20","series":"Ks original model","v":0.767},{"date":"2011-07-23","series":"Ks original model","v":0.61},{"date":"2011-07-26","series":"Ks original model","v":0.533},{"date":"2011-07-29","series":"Ks original model","v":0.49},{"date":"2011-08-02","series":"Ks original model","v":0.40},{"date":"2011-08-06","series":"Ks original model","v":0.31},{"date":"2011-08-09","series":"Ks original model","v":0.263},{"date":"2011-08-10","series":"Ks original model","v":0.90},{"date":"2011-08-11","series":"Ks original model","v":0.86},{"date":"2011-08-14","series":"Ks original model","v":0.73},{"date":"2011-08-18","series":"Ks original model","v":0.555},{"date":"2011-08-22","series":"Ks original model","v":0.445},{"date":"2011-08-25","series":"Ks original model","v":0.358},{"date":"2011-08-26","series":"Ks original model","v":0.95},{"date":"2011-08-28","series":"Ks original model","v":0.86},{"date":"2011-08-30","series":"Ks original model","v":0.78},{"date":"2011-08-31","series":"Ks original model","v":0.73},{"date":"2011-09-01","series":"Ks original model","v":1.0},{"date":"2011-09-03","series":"Ks original model","v":0.97},{"date":"2011-09-07","series":"Ks original model","v":0.925},{"date":"2011-09-08","series":"Ks original model","v":0.955},{"date":"2011-09-12","series":"Ks original model","v":0.93},{"date":"2011-09-18","series":"Ks original model","v":0.88},{"date":"2011-09-20","series":"Ks original model","v":0.93},{"date":"2011-09-21","series":"Ks original model","v":0.90},{"date":"2011-09-22","series":"Ks original model","v":0.86},{"date":"2011-09-23","series":"Ks original model","v":0.88},{"date":"2011-09-25","series":"Ks original model","v":0.81},{"date":"2011-09-27","series":"Ks original model","v":0.72},{"date":"2011-09-28","series":"Ks original model","v":0.66},
  {"date":"2011-04-15","series":"Ks modified model","v":1.0},{"date":"2011-07-03","series":"Ks modified model","v":1.0},{"date":"2011-07-07","series":"Ks modified model","v":0.97},{"date":"2011-07-11","series":"Ks modified model","v":0.938},{"date":"2011-07-14","series":"Ks modified model","v":0.906},{"date":"2011-07-15","series":"Ks modified model","v":0.914},{"date":"2011-07-16","series":"Ks modified model","v":0.954},{"date":"2011-07-18","series":"Ks modified model","v":0.93},{"date":"2011-07-20","series":"Ks modified model","v":0.954},{"date":"2011-07-22","series":"Ks modified model","v":0.967},{"date":"2011-07-26","series":"Ks modified model","v":0.906},{"date":"2011-07-31","series":"Ks modified model","v":0.843},{"date":"2011-08-06","series":"Ks modified model","v":0.763},{"date":"2011-08-09","series":"Ks modified model","v":0.70},{"date":"2011-08-10","series":"Ks modified model","v":0.914},{"date":"2011-08-14","series":"Ks modified model","v":0.859},{"date":"2011-08-19","series":"Ks modified model","v":0.779},{"date":"2011-08-23","series":"Ks modified model","v":0.716},{"date":"2011-08-25","series":"Ks modified model","v":0.644},{"date":"2011-08-26","series":"Ks modified model","v":0.946},{"date":"2011-08-29","series":"Ks modified model","v":0.87},{"date":"2011-08-31","series":"Ks modified model","v":0.825},{"date":"2011-09-01","series":"Ks modified model","v":0.954},{"date":"2011-09-03","series":"Ks modified model","v":0.962},{"date":"2011-09-07","series":"Ks modified model","v":0.93},{"date":"2011-09-08","series":"Ks modified model","v":0.962},{"date":"2011-09-12","series":"Ks modified model","v":0.938},{"date":"2011-09-18","series":"Ks modified model","v":0.89},{"date":"2011-09-20","series":"Ks modified model","v":0.938},{"date":"2011-09-22","series":"Ks modified model","v":0.92},{"date":"2011-09-26","series":"Ks modified model","v":0.883},{"date":"2011-09-28","series":"Ks modified model","v":0.83}
 ],
 "mswp_c": [
  {"date":"2011-06-27","series":"MSWP","mswp":17.4,"lo":16.6,"hi":18.1},{"date":"2011-07-05","series":"MSWP","mswp":19.3,"lo":18.5,"hi":20.2},{"date":"2011-07-11","series":"MSWP","mswp":19.6,"lo":18.5,"hi":20.8},{"date":"2011-07-19","series":"MSWP","mswp":21.8,"lo":19.8,"hi":23.9},{"date":"2011-08-02","series":"MSWP","mswp":23.1,"lo":18.0,"hi":28.3},{"date":"2011-08-09","series":"MSWP","mswp":28.1,"lo":null,"hi":null},{"date":"2011-08-16","series":"MSWP","mswp":21.8,"lo":null,"hi":null},{"date":"2011-08-23","series":"MSWP","mswp":32.5,"lo":27.6,"hi":37.5},{"date":"2011-08-30","series":"MSWP","mswp":28.4,"lo":25.2,"hi":31.7}
 ]
}
}
